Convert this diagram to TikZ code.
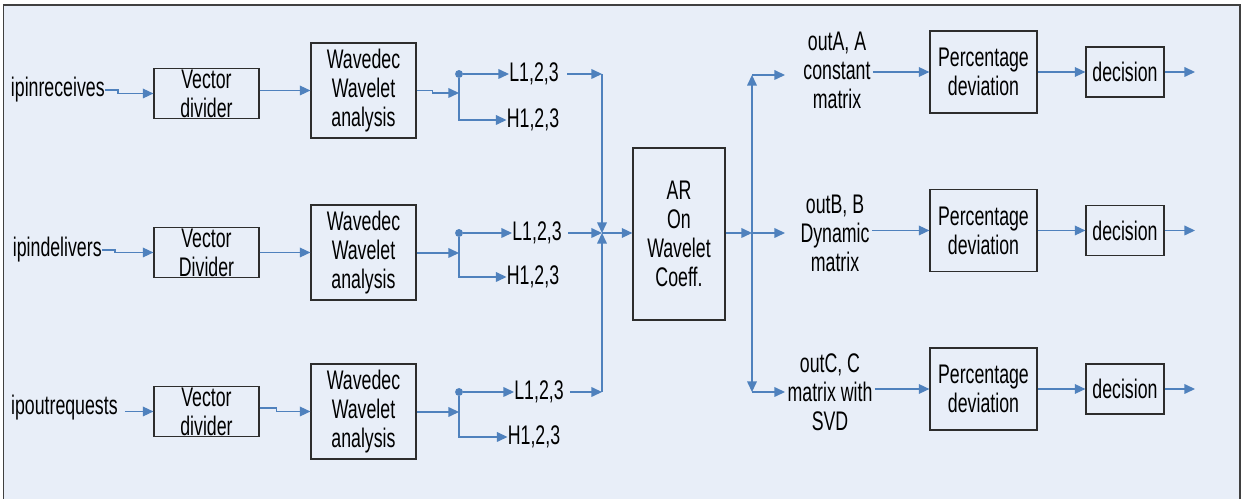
\documentclass[tikz,border=0pt]{standalone}
\usepackage{fontspec}
\setmainfont{Liberation Sans}[FakeStretch=0.66]
\usetikzlibrary{arrows.meta}
\definecolor{bgblue}{RGB}{232,238,248}
\definecolor{arrblue}{RGB}{79,129,189}
\definecolor{boxgray}{RGB}{45,45,45}
\tikzset{
  blk/.style={draw=boxgray, line width=0.7pt, align=center, inner sep=0pt,
    font=\fontsize{15.3}{16.5}\selectfont},
  lbl/.style={inner sep=0pt, align=center, font=\fontsize{15.3}{16.5}\selectfont},
  conn/.style={arrblue, line width=0.7pt, -{Triangle[length=6pt,width=5.5pt]}},
  dot/.style={circle, fill=arrblue, inner sep=0pt, minimum size=4.5pt},
  frame/.style={draw=black!75, line width=0.9pt},
}
\begin{document}
\begin{tikzpicture}[x=0.02cm, y=-0.02cm]
\useasboundingbox (0,0) rectangle (1242,499);
\fill[bgblue] (3.5,5) rectangle (1240,499);
\draw[frame] (3.5,499) -- (3.5,5) -- (1240,5) -- (1240,499);

% input side, one row per counter
\foreach \r/\yv/\yw/\yl/\yh/\yj/\ex/\ey/\src/\dv/\lx/\hx in {%
  1/93.5/90.5/74/120/93/105/90/ipinreceives/divider/534/533,
  2/252.5/252.5/233/277/253/102/250/ipindelivers/Divider/537/533,
  3/411.5/411.5/392/437/412/118/408/ipoutrequests/divider/539/534}
{
  \node[lbl, anchor=east] (in\r) at (\ex,\ey) {\src};
  \node[blk, minimum width=2.1cm, minimum height=1cm] (vd\r) at (206.5,\yv) {Vector\\\dv};
  \node[blk, minimum width=2.1cm, minimum height=1.9cm] (wd\r) at (363.5,\yw) {Wavedec\\Wavelet\\analysis};
  \node[dot] (d\r) at (459,\yl) {};
  \coordinate (j\r) at (459,\yj);
  \node[lbl] (L\r) at (\lx,\yl) {L1,2,3};
  \node[lbl] (H\r) at (\hx,\yh) {H1,2,3};
  \draw[conn] (d\r) -- (L\r);
  \draw[conn] (d\r) |- (H\r);
}

% into the dividers and wavedec blocks
\draw[conn] (in1.east) -- ++(13,0) |- (vd1.west);
\draw[conn] (in2.east) -- ++(13,0) |- (vd2.west);
\draw[conn] ([xshift=0.14cm]vd3.west -| in3.east) -- (vd3.west);
\draw[conn] (vd1.east |- wd1) -- (wd1.west);
\draw[conn] (vd2.east) -- (wd2.west);
\draw[conn] ([yshift=2pt]vd3.east) -- ++(17,0) |- (wd3.west);
\draw[conn] (wd1.east) -- ++(16,0) |- (j1);
\draw[conn] (wd2.east |- j2) -- (j2);
\draw[conn] (wd3.east |- j3) -- (j3);

% merge into AR
\node[blk, minimum width=1.84cm, minimum height=3.44cm] (ar) at (679,234) {AR\\On\\Wavelet\\Coeff.};
\coordinate (m) at (602,233);
\draw[conn] ([xshift=0.16cm]L1.east) -- (m |- L1);
\draw[conn] (m |- L1) -- (m);
\draw[conn] ([xshift=0.12cm]L2.east) -- (m);
\draw[conn] ([xshift=0.12cm]L3.east) -- (m |- L3);
\draw[conn] (m |- L3) -- (m);
\draw[conn] (m) -- (ar.west |- m);

% split out of AR
\coordinate (s) at (752,233);
\coordinate (tA) at (752,75);
\coordinate (tC) at (752,392);
\coordinate (eA) at (785,75);
\coordinate (eB) at (785,233);
\coordinate (eC) at (785,392);
\draw[conn] (ar.east |- s) -- (s);
\draw[conn] (s) -- (eB);
\draw[conn] (s) -- (tA);
\draw[conn] (tA) -- (eA);
\draw[conn] (s) -- (tC);
\draw[conn] (tC) -- (eC);

% output side
\foreach \r/\y/\ox/\oy/\txt in {%
  1/72/837/70/{outA, A\\constant\\matrix},
  2/230.5/835/233/{outB, B\\Dynamic\\matrix},
  3/389/830/392/{outC, C\\matrix with\\SVD}}
{
  \node[lbl] (o\r) at (\ox,\oy) {\txt};
  \node[blk, minimum width=2.14cm, minimum height=1.64cm] (pd\r) at (983.5,\y) {Percentage\\deviation};
  \node[blk, minimum width=1.56cm, minimum height=1cm] (dc\r) at (1125,\y) {decision};
  \coordinate (x\r) at (1195,\y);
  \draw[conn] ([xshift=0.04cm]o\r.east |- pd\r) -- (pd\r);
  \draw[conn] (pd\r) -- (dc\r);
  \draw[conn] (dc\r) -- (x\r);
}
\end{tikzpicture}
\end{document}
